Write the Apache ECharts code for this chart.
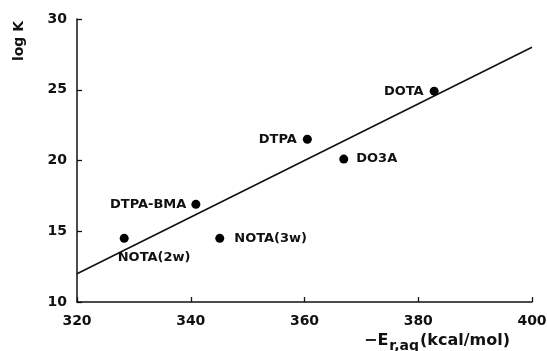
<!DOCTYPE html>
<html><head><meta charset="utf-8">
<script src="https://cdn.jsdelivr.net/npm/echarts@6/dist/echarts.min.js"></script>
<style>html,body{margin:0;padding:0;background:#fff}#c{width:547px;height:351px}</style>
</head><body><div id="c"></div>
<script>
const names = ['DOTA','DTPA','DO3A','DTPA-BMA','NOTA(2w)','NOTA(3w)'];
const energy = [382.8, 360.5, 366.9, 340.9, 328.3, 345.1];
const logK = [24.9, 21.5, 20.1, 16.9, 14.5, 14.5];
const fitX = [320, 400];
const fitY = [12, 28];
const xTicks = [320, 340, 360, 380, 400];
const yTicks = [10, 15, 20, 25, 30];

const labelPos = {
  'DOTA': {position:'left', distance:6},
  'DTPA': {position:'left', distance:6},
  'DO3A': {position:'right', distance:8},
  'DTPA-BMA': {position:'left', distance:5},
  'NOTA(2w)': {position:[-2, 24], align:'left', verticalAlign:'middle'},
  'NOTA(3w)': {position:'right', distance:10}
};
const font = 'DejaVu Sans';
const ink = '#111';
const chart = echarts.init(document.getElementById('c'), null, {renderer:'canvas'});
chart.setOption({
  animation:false,
  backgroundColor:'#fff',
  grid:{left:77, right:15, top:19, bottom:49, containLabel:false, outerBoundsMode:'none'},
  xAxis:{type:'value', min:xTicks[0], max:xTicks[xTicks.length-1], interval:20,
    splitLine:{show:false},
    axisLine:{lineStyle:{color:ink, width:1.5}},
    axisTick:{inside:true, length:5, lineStyle:{color:ink, width:1.3}},
    axisLabel:{color:ink, fontFamily:font, fontSize:14, fontWeight:'bold', margin:12},
    name:'−E{sub|r,aq}(kcal/mol)', nameLocation:'end', nameGap:-22,
    nameTextStyle:{color:ink, fontFamily:font, fontSize:16, fontWeight:'bold', align:'right', verticalAlign:'top', padding:[27,0,0,0],
      rich:{sub:{fontFamily:font, fontSize:14, fontWeight:'bold', color:ink, padding:[10,1,0,1]}}}
  },
  yAxis:{type:'value', min:yTicks[0], max:yTicks[yTicks.length-1], interval:5,
    splitLine:{show:false},
    axisLine:{lineStyle:{color:ink, width:1.5}},
    axisTick:{inside:true, length:5, lineStyle:{color:ink, width:1.3}},
    axisLabel:{color:ink, fontFamily:font, fontSize:14, fontWeight:'bold', margin:10}
  },
  graphic:[{type:'text', x:19, y:41, rotation:Math.PI/2,
    style:{text:'log K', fill:ink, font:'bold 14px "DejaVu Sans"', align:'center', verticalAlign:'middle'}}],
  series:[
    {type:'line', data:fitX.map((x,i)=>[x, fitY[i]]), symbol:'none',
      lineStyle:{color:ink, width:1.6}, silent:true, z:1},
    {type:'scatter', symbolSize:9, itemStyle:{color:'#000', opacity:1}, z:2,
      data:names.map((n,i)=>({value:[energy[i], logK[i]], name:n,
        label:Object.assign({show:true, formatter:n, color:ink, fontFamily:font, fontSize:13, fontWeight:'bold'}, labelPos[n])}))}
  ]
});
</script></body></html>
